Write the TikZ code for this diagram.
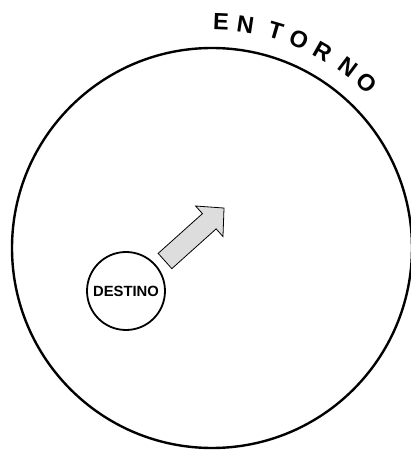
\documentclass[tikz,border=0pt]{standalone}
\usepackage{fontspec}
\setmainfont{Liberation Sans}
\usetikzlibrary{calc}
\definecolor{arrowgray}{RGB}{221,221,221}

\begin{document}
\begin{tikzpicture}[x=1pt, y=1pt,
  letter/.style={inner sep=0pt, font=\fontsize{23.5}{28}\selectfont\bfseries},
  destino/.style={draw, circle, line width=1.8pt, minimum size=78pt, inner sep=0pt,
    font=\fontsize{14.8}{18}\selectfont\bfseries}]
\useasboundingbox (0,0) rectangle (411,451);

% Environment
\coordinate (centre) at (212,203);
\draw[line width=2.4pt] (centre) circle (200);

% Letters along the arc
\foreach \ch/\ang [count=\i] in {E/2.3, N/8.5, T/16.4, O/22.6, R/29.5, N/37.0, O/43.1}
  \node[letter, rotate=-\ang] (let\i) at ($(centre)+(90-\ang:226)$) {\ch};

% Destination
\node[destino] (dest) at (126,160) {DESTINO};

% Block arrow pointing outwards
\begin{scope}[shift={(165,190)}, rotate=41.9]
\filldraw[fill=arrowgray, draw=black, line width=0.8pt, line join=miter]
  (0,-10.25) -- (59.5,-10.25) -- (59.5,-20.5) -- (79.3,0)
  -- (59.5,20.5) -- (59.5,10.25) -- (0,10.25) -- cycle;
\end{scope}

\end{tikzpicture}
\end{document}
